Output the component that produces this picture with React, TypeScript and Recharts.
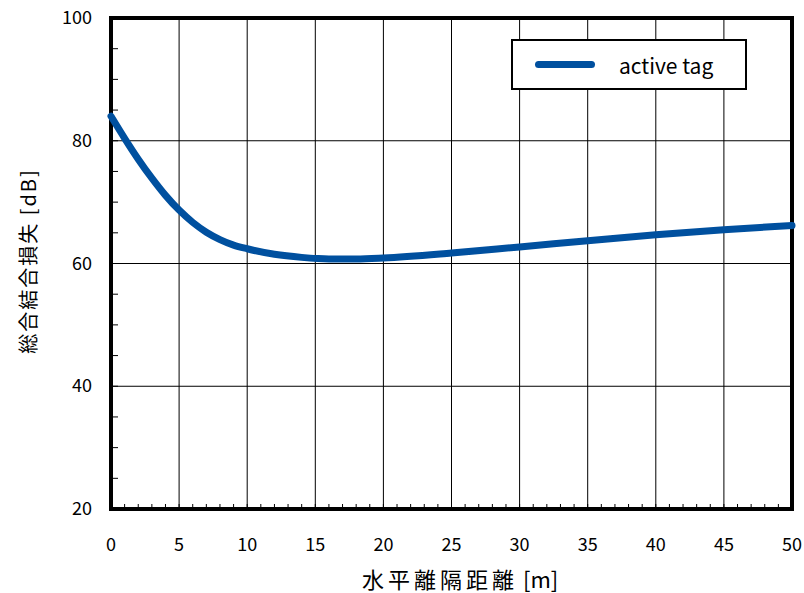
import { LineChart, Line, XAxis, YAxis, CartesianGrid, ReferenceArea, Legend } from 'recharts';

// horizontal distance [m]
const distance = [0, 1, 2, 3, 4, 5, 6, 7, 8, 9, 10, 12, 14, 16, 18, 20, 25, 30, 35, 40, 45, 50];
// total coupling loss [dB]
const loss = [84.0, 80.4, 77.0, 73.9, 71.1, 68.7, 66.7, 65.1, 63.9, 63.0, 62.4, 61.5, 61.0, 60.75, 60.75, 60.9, 61.7, 62.7, 63.7, 64.7, 65.5, 66.2];

const xMajor = [0, 5, 10, 15, 20, 25, 30, 35, 40, 45, 50];
const yMajor = [20, 40, 60, 80, 100];
const xMinor = Array.from({ length: 51 }, (_, i) => i);
const yMinor = Array.from({ length: 17 }, (_, i) => 20 + i * 5);

const seriesName = 'active tag';
const xTitle = '水平離隔距離';
const xUnit = ' [m]';
const yTitle = '総合結合損失 [dB]';

const data = distance.map((d, i) => ({ d, loss: loss[i] }));

const FONT = '"Noto Sans CJK JP", "Noto Sans", sans-serif';
const BLUE = '#00509f';

function XTick(props: any) {
  const { x, y, payload } = props;
  const v = payload.value;
  return (
    <g>
      {v > 0 && v < 50 && <line x1={x} x2={x} y1={y} y2={y - 5} stroke="#000" strokeWidth={1} />}
      {v % 5 === 0 && (
        <text x={x} y={y + 42} textAnchor="middle" fontSize={18} fontFamily={FONT} fill="#000">
          {v}
        </text>
      )}
    </g>
  );
}

function YTick(props: any) {
  const { x, y, payload } = props;
  const v = payload.value;
  return (
    <g>
      {v > 20 && v < 100 && <line x1={x} x2={x + 7} y1={y} y2={y} stroke="#000" strokeWidth={1} />}
      {v % 20 === 0 && (
        <text x={x - 19} y={y + 6} textAnchor="end" fontSize={18} fontFamily={FONT} fill="#000">
          {v}
        </text>
      )}
    </g>
  );
}

function XTitle() {
  return (
    <text x={362} y={588} textAnchor="start" fontSize={22} fontFamily={FONT} fill="#000">
      <tspan letterSpacing={4}>{xTitle}</tspan>
      <tspan>{xUnit}</tspan>
    </text>
  );
}

function YTitle() {
  return (
    <text
      transform="translate(36,261) rotate(-90)"
      textAnchor="middle"
      fontSize={20}
      letterSpacing={2}
      fontFamily={FONT}
      fill="#000"
    >
      {yTitle}
    </text>
  );
}

function LegendBox() {
  return (
    <div
      style={{
        width: 232,
        height: 47,
        border: '2px solid #000',
        background: '#fff',
        display: 'flex',
        alignItems: 'center',
        fontFamily: FONT,
        fontSize: 21,
        boxSizing: 'content-box',
      }}
    >
      <div style={{ width: 60, height: 7, borderRadius: 4, background: BLUE, marginLeft: 22, marginRight: 24 }} />
      <span>{seriesName}</span>
    </div>
  );
}

export default function App() {
  return (
    <div style={{ position: 'fixed', left: 0, top: 0, background: '#fff' }}>
      <LineChart width={804} height={593} data={data} margin={{ top: 18, right: 12, left: 0, bottom: 0 }}>
        <CartesianGrid stroke="#000" strokeWidth={1} horizontalValues={yMajor} verticalValues={xMajor} />
        <XAxis
          dataKey="d"
          type="number"
          domain={[0, 50]}
          ticks={xMinor}
          interval={0}
          height={84}
          axisLine={false}
          tickLine={false}
          tickSize={0}
          tickMargin={0}
          tick={<XTick />}
          label={<XTitle />}
        />
        <YAxis
          type="number"
          domain={[20, 100]}
          ticks={yMinor}
          interval={0}
          width={111}
          axisLine={false}
          tickLine={false}
          tickSize={0}
          tickMargin={0}
          tick={<YTick />}
          label={<YTitle />}
        />
        <ReferenceArea x1={0} x2={50} y1={20} y2={100} fill="none" fillOpacity={0} stroke="#000" strokeWidth={4} ifOverflow="visible" />
        <Line
          type="monotone"
          dataKey="loss"
          name={seriesName}
          stroke={BLUE}
          strokeWidth={7}
          strokeLinecap="round"
          dot={false}
          activeDot={false}
          isAnimationActive={false}
        />
        <Legend
          layout="vertical"
          verticalAlign="middle"
          align="center"
          content={<LegendBox />}
          wrapperStyle={{ left: 511, top: 39, width: 'auto', height: 'auto' }}
        />
      </LineChart>
    </div>
  );
}
